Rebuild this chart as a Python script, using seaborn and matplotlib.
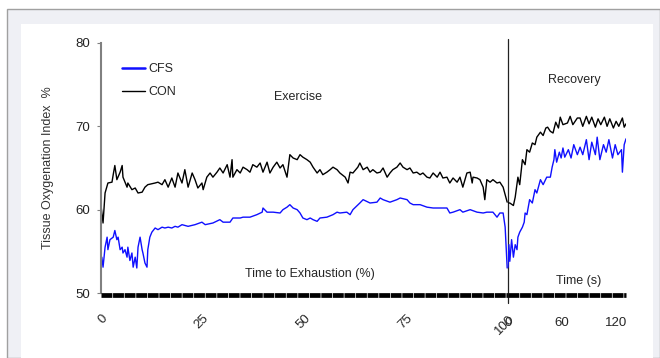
import numpy as np
import pandas as pd
import matplotlib
matplotlib.use("Agg")
import matplotlib.pyplot as plt
import seaborn as sns
from matplotlib.patches import Rectangle

# exercise phase, x in % of time to exhaustion
con_ex_x = [0.0, 0.5, 1.0, 1.7, 2.7, 3.0, 3.4, 3.9, 4.7, 5.2, 5.4, 6.4, 6.6, 7.6, 8.4, 9.1, 10.1, 10.8,
            11.5, 13.3, 14.0, 15.0, 15.7, 16.5, 17.4, 18.2, 18.9, 19.9, 20.6, 21.4, 22.4, 23.1, 23.8,
            24.8, 25.1, 26.0, 26.8, 27.5, 28.5, 29.2, 30.0, 31.0, 31.7, 32.2, 32.4, 33.4, 34.2, 34.9,
            35.9, 36.6, 37.3, 38.3, 39.1, 39.8, 40.8, 41.5, 42.3, 43.2, 44.0, 44.7, 45.7, 46.4, 47.2,
            48.2, 48.9, 49.6, 50.6, 51.4, 52.1, 53.1, 53.8, 54.5, 55.5, 56.3, 57.0, 58.0, 58.7, 60.0,
            60.7, 61.2, 61.9, 63.1, 63.6, 64.4, 65.4, 66.1, 66.8, 67.8, 68.6, 69.3, 70.3, 71.0, 71.7,
            72.7, 73.5, 74.2, 75.2, 75.9, 76.7, 77.6, 78.4, 79.1, 80.1, 80.8, 81.6, 82.6, 83.3, 84.0,
            85.0, 85.7, 86.5, 87.5, 88.2, 88.9, 89.9, 90.7, 91.2, 91.4, 92.4, 93.1, 93.9, 94.3, 94.8,
            95.6, 96.3, 97.3, 98.0, 98.8, 99.8]
con_ex_y = [60.5, 58.4, 62.0, 63.2, 63.3, 64.2, 65.3, 63.6, 64.5, 65.3, 63.9, 62.7, 63.2, 62.4, 62.6,
            62.0, 62.1, 62.7, 63.0, 63.2, 63.3, 63.0, 63.6, 62.7, 63.8, 62.7, 64.4, 63.2, 64.8, 62.7,
            64.4, 63.6, 62.6, 63.2, 62.4, 63.9, 64.4, 63.9, 64.5, 65.0, 64.4, 65.4, 63.9, 66.0, 63.9,
            64.8, 64.4, 65.1, 64.8, 64.5, 65.4, 65.1, 65.6, 64.5, 65.7, 64.4, 65.1, 65.7, 65.0, 65.4,
            63.9, 66.6, 66.2, 66.0, 66.6, 66.3, 66.0, 65.7, 65.1, 64.4, 64.8, 64.2, 64.5, 64.8, 65.1,
            64.8, 64.4, 63.9, 63.2, 64.5, 64.4, 65.1, 65.6, 64.8, 65.1, 64.5, 64.8, 64.4, 64.5, 65.0,
            63.9, 64.4, 64.8, 65.1, 65.6, 65.1, 64.8, 65.0, 64.4, 64.5, 64.2, 64.4, 63.9, 63.8, 64.4,
            63.9, 64.5, 63.8, 63.9, 63.2, 63.8, 63.3, 63.9, 62.7, 64.4, 64.5, 63.2, 63.9, 63.8, 63.6,
            62.7, 61.2, 63.6, 63.3, 63.6, 63.2, 63.3, 62.7, 60.9]

cfs_ex_x = [0.2, 0.5, 1.0, 1.5, 1.7, 2.2, 3.0, 3.4, 3.9, 4.2, 4.7, 5.2, 5.4, 5.9, 6.4, 6.6, 7.1, 7.6,
            7.9, 8.4, 8.8, 9.1, 9.6, 10.1, 10.3, 10.8, 11.3, 11.5, 12.0, 12.5, 13.3, 14.0, 15.0, 15.7,
            16.5, 17.4, 18.2, 18.9, 19.9, 21.4, 23.1, 24.8, 25.6, 27.5, 29.2, 30.0, 31.7, 32.4, 34.2,
            34.9, 36.6, 38.3, 39.6, 39.8, 40.8, 42.3, 44.0, 44.7, 45.7, 46.4, 47.2, 48.2, 48.9, 49.6,
            50.6, 51.4, 52.1, 53.1, 53.8, 55.5, 57.0, 58.0, 58.7, 60.4, 61.2, 61.9, 63.6, 64.4, 66.1,
            67.8, 68.6, 69.3, 71.0, 72.7, 73.5, 75.2, 75.9, 76.7, 78.4, 80.1, 81.6, 83.3, 85.0, 85.7,
            86.5, 88.2, 88.9, 90.7, 92.4, 93.9, 94.8, 96.3, 97.3, 98.0, 98.8, 99.3, 99.8]
cfs_ex_y = [54.3, 53.1, 55.5, 56.7, 55.2, 56.4, 56.7, 57.5, 56.4, 56.7, 55.2, 55.5, 54.8, 55.2, 54.3,
            55.5, 53.9, 54.8, 53.1, 54.3, 53.0, 55.5, 56.7, 55.2, 54.8, 53.6, 53.1, 55.2, 56.7, 57.3,
            57.8, 57.6, 57.9, 57.8, 57.9, 57.8, 58.0, 57.9, 58.2, 58.0, 58.2, 58.5, 58.2, 58.4, 58.8,
            58.5, 58.5, 59.0, 59.0, 59.1, 59.1, 59.4, 59.7, 60.2, 59.7, 59.7, 59.6, 60.0, 60.3, 60.6,
            60.2, 60.0, 59.6, 59.0, 58.8, 59.0, 58.8, 58.6, 59.0, 59.1, 59.4, 59.7, 59.6, 59.7, 59.4,
            60.0, 60.8, 61.2, 60.8, 60.9, 61.4, 61.2, 60.9, 61.2, 61.4, 61.2, 60.8, 60.6, 60.6, 60.3,
            60.2, 60.2, 60.2, 59.6, 59.7, 60.0, 59.7, 60.0, 59.7, 59.6, 59.7, 59.7, 59.1, 59.6, 59.6,
            57.9, 53.0]

# recovery phase, x in seconds
con_rec_t = [0, 2, 6, 8, 11, 13, 16, 19, 21, 24, 27, 30, 32, 36, 39, 42, 44, 47, 50, 53, 56, 58, 61,
             66, 69, 72, 77, 80, 83, 87, 90, 93, 97, 100, 103, 107, 110, 113, 117, 120, 123, 127, 129, 131]
con_rec_y = [60.8, 60.8, 60.5, 61.5, 63.9, 63.0, 66.0, 65.4, 67.2, 66.9, 68.0, 67.8, 68.7, 69.3, 68.9,
             69.8, 69.9, 69.4, 69.2, 70.5, 69.8, 71.1, 70.2, 70.4, 71.2, 70.2, 71.0, 71.0, 70.0, 71.2,
             70.3, 71.1, 69.9, 70.9, 70.2, 71.1, 70.0, 70.9, 69.8, 70.6, 70.0, 71.0, 69.9, 70.3]

cfs_rec_t = [0, 1, 2, 4, 6, 8, 10, 11, 13, 16, 18, 19, 21, 24, 27, 30, 32, 36, 39, 43, 47, 49, 51, 52,
             54, 57, 59, 61, 63, 67, 70, 73, 77, 80, 83, 87, 90, 93, 97, 99, 102, 106, 109, 112, 116,
             119, 122, 126, 127, 129, 131]
cfs_rec_y = [53.1, 55.8, 53.8, 56.4, 54.3, 55.8, 55.2, 56.7, 57.3, 57.9, 58.5, 59.6, 59.4, 61.2, 60.8,
             62.4, 62.0, 63.6, 63.0, 63.9, 63.9, 65.1, 66.0, 67.2, 65.7, 66.9, 66.2, 67.4, 66.3, 67.2,
             66.2, 67.8, 66.6, 67.5, 66.6, 68.4, 66.0, 68.1, 66.6, 68.7, 66.0, 67.8, 66.9, 68.4, 66.2,
             67.8, 66.6, 67.2, 64.5, 67.8, 68.5]

ex = pd.concat([pd.DataFrame({"x": cfs_ex_x, "toi": cfs_ex_y, "group": "CFS"}),
                pd.DataFrame({"x": con_ex_x, "toi": con_ex_y, "group": "CON"})])
rec = pd.concat([pd.DataFrame({"x": cfs_rec_t, "toi": cfs_rec_y, "group": "CFS"}),
                 pd.DataFrame({"x": con_rec_t, "toi": con_rec_y, "group": "CON"})])

sns.set_style("ticks")
plt.rcParams["font.family"] = ["Liberation Sans", "DejaVu Sans"]
plt.rcParams["font.size"] = 9

colors = {"CFS": "#1010ff", "CON": "black"}

fig = plt.figure(figsize=(6.6, 3.58), dpi=100)
fig.patch.set_facecolor("white")

W, H = 660.0, 358.0
def fr(x0, y0, x1, y1):
    return (x0 / W, 1 - y1 / H), (x1 - x0) / W, (y1 - y0) / H

xy, w, h = fr(7, 9, 660, 358)
fig.add_artist(Rectangle(xy, w, h, transform=fig.transFigure, facecolor="#eff0f5",
                         edgecolor="#a0a0a0", lw=1, zorder=-10))
xy, w, h = fr(21, 24, 653, 358)
fig.add_artist(Rectangle(xy, w, h, transform=fig.transFigure, facecolor="white",
                         edgecolor="none", zorder=-9))

ax1 = fig.add_axes([101 / W, 1 - 293 / H, 407 / W, 250 / H])
ax2 = fig.add_axes([508 / W, 1 - 293 / H, 118 / W, 250 / H])
for ax in (ax1, ax2):
    ax.set_facecolor("none")

sns.lineplot(data=ex, x="x", y="toi", hue="group", palette=colors, ax=ax1, lw=1, sort=False,
             estimator=None)
sns.lineplot(data=rec, x="x", y="toi", hue="group", palette=colors, ax=ax2, lw=1, sort=False,
             estimator=None, legend=False)

ax1.set_xlim(0, 100)
ax2.set_xlim(0, 131)
for ax in (ax1, ax2):
    ax.set_ylim(50, 80)
    ax.set_xlabel("")
    ax.set_ylabel("")
    for s in ["top", "right", "bottom"]:
        ax.spines[s].set_visible(False)

ax1.spines["left"].set_color("#808080")
ax1.spines["left"].set_linewidth(1.5)
ax1.set_yticks([50, 60, 70, 80])
ax1.tick_params(axis="y", length=3, color="#808080", pad=5, labelsize=9.5, labelcolor="#222222")
ax2.spines["left"].set_visible(False)
ax2.set_yticks([])

ax1.set_xticks([0, 25, 50, 75, 100])
ax1.set_xticklabels(["0", "25", "50", "75", "100"], rotation=45, ha="right",
                    rotation_mode="anchor")
ax1.tick_params(axis="x", length=0, pad=14, labelsize=9.5)
ax2.set_xticks([0, 60, 120])
ax2.tick_params(axis="x", length=0, pad=17, labelsize=9.5)

# thick dashed category axis
for ax, x1 in ((ax1, 100), (ax2, 131)):
    ln, = ax.plot([0, x1], [49.72, 49.72], color="black", lw=3.4, clip_on=False, zorder=5)
    ln.set_dashes([2.3, 0.15])
    ln.set_dash_capstyle("butt")

ax1.plot([100, 100], [48.8, 80.5], color="#222222", lw=0.9, clip_on=False, zorder=6)

ax1.set_ylabel("Tissue Oxygenation Index  %", fontsize=9, color="#333333", labelpad=15)

ax1.text(48.4, 73.5, "Exercise", ha="center", va="center", fontsize=9)
ax1.text(51.4, 52.3, "Time to Exhaustion (%)", ha="center", va="center", fontsize=9)
ax2.text(74, 75.6, "Recovery", ha="center", va="center", fontsize=9)
ax2.text(78, 51.4, "Time (s)", ha="center", va="center", fontsize=9)

leg = ax1.legend(loc="upper left", bbox_to_anchor=(0.025, 0.965), frameon=False, title=None,
                 handlelength=1.8, handletextpad=0.3, labelspacing=0.9, fontsize=9)
leg.get_lines()[0].set_linewidth(1.8)
leg.get_lines()[1].set_linewidth(1.0)

fig.savefig("out.png", dpi=100)
